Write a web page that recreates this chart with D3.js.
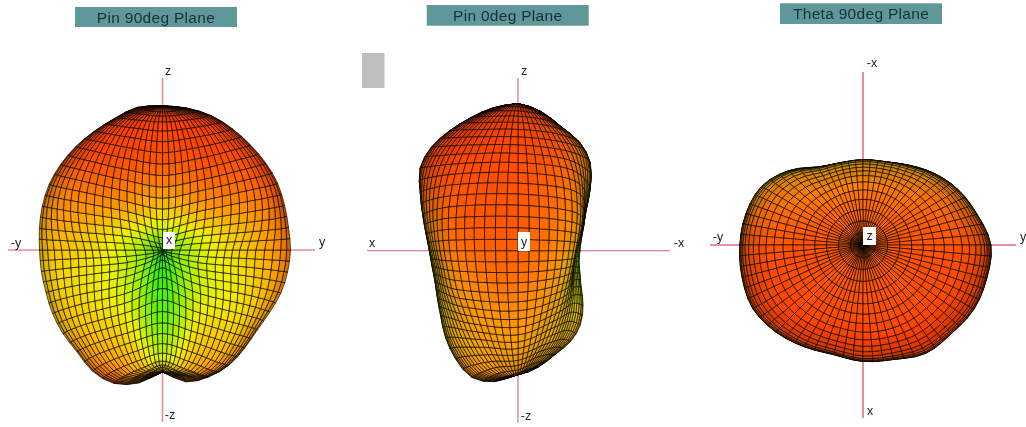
<!DOCTYPE html>
<html><head><meta charset="utf-8">
<script src="https://cdn.jsdelivr.net/npm/d3@7/dist/d3.min.js"></script>
<style>html,body{margin:0;padding:0;background:#fff}svg{display:block;filter:blur(.35px)}text{font-family:"Liberation Sans",Arial,sans-serif}</style>
</head><body><svg id="c" width="1026" height="427"></svg>
<script>
// Radius, rows theta 0..180 by 10 deg, columns phi -90..90 by 30 deg
const radiusPin90 = [
[144,144,144,144,144,144,144],[145,143,141,140,141,143,144],[140,140,138,136,138,141,143],
[137,135,130,125,130,136,140],[135,130,120,112,120,131,137],[133,125,110,98,110,126,135],
[131,120,100,82,100,121,133],[128,113,90,60,90,114,130],[125,105,82,35,82,106,128],
[123,98,75,10,75,98,128],[123,98,72,10,72,98,127],[124,102,78,30,78,102,126],
[127,108,88,55,88,108,124],[130,115,98,78,98,115,124],[133,122,108,95,108,122,128],
[140,130,118,108,118,130,133],[142,135,126,118,126,133,135],[135,130,124,119,124,128,134],
[122,122,122,122,122,122,122]];
const radiusPin0 = [
[147,147,147,147,147,147,147],[145,145,146,146,144,142,140],[141,142,143,143,140,134,130],
[138,139,140,140,136,129,124],[135,136,138,138,132,121,112],[128,131,136,137,128,105,93],
[112,122,133,135,122,90,77],[100,112,130,133,115,80,69],[92,104,126,131,108,72,64],
[88,98,122,128,102,66,62],[87,95,118,125,98,65,62],[88,96,116,122,96,68,66],
[93,99,114,120,96,74,73],[101,104,114,119,98,82,85],[113,113,116,119,102,92,97],
[125,122,120,120,108,102,105],[135,130,124,122,113,110,110],[133,130,127,124,120,118,118],
[124,124,124,124,124,124,124]];
// Rows theta 0..90 by 15 deg, columns azimuth 0..345 by 15 deg, clockwise from -x (screen up)
const radiusTheta90 = [
Array(24).fill(140),
[136,136,137,138,140,141,142,142,142,142,141,140,140,140,140,141,141,141,141,140,139,138,137,136],
[126,127,129,132,135,138,142,142,142,141,140,139,138,137,138,140,141,140,140,139,137,132,127,126],
[110,111,115,122,129,134,140,140,140,138,137,135,134,132,134,137,139,138,137,135,132,124,113,110],
[98,99,104,112,120,127,136,136,136,134,133,129,128,125,128,132,135,133,132,130,126,116,102,98],
[88,89,95,104,113,121,130,131,131,128,128,122,120,117,121,126,130,128,126,124,120,108,93,88],
[85,86,92,101,110,118,128,128,128,125,125,118,116,113,117,123,127,125,123,121,117,105,90,85]];
const gainPin90 = [
[.9,.9,.9,.9,.9,.9,.9],[.92,.92,.92,.9,.92,.92,.92],[.85,.88,.86,.82,.86,.88,.9],
[.72,.75,.7,.55,.7,.78,.85],[.62,.6,.45,.2,.45,.62,.78],[.55,.5,.38,.05,.38,.52,.72],
[.58,.52,.4,.1,.4,.5,.68],[.66,.6,.5,.22,.5,.58,.66],[.82,.72,.58,.42,.58,.7,.75],
[.6,.6,.6,.6,.6,.6,.6]];
const gainPin0 = [
[.9,.9,.9,.9,.9,.9,.9],[.9,.92,.9,.88,.86,.82,.78],[.88,.9,.9,.88,.82,.7,.6],
[.68,.8,.84,.84,.75,.55,.42],[.55,.65,.8,.82,.68,.45,.3],[.5,.58,.72,.78,.6,.4,.28],
[.5,.55,.66,.7,.6,.45,.38],[.55,.6,.64,.66,.6,.55,.55],[.7,.68,.65,.65,.62,.6,.6],
[.7,.7,.7,.7,.7,.7,.7]];
// Rows theta 0..90 by 15 deg, columns azimuth 0..330 by 30 deg
const gainTheta90 = [
Array(12).fill(.82),
[.8,.8,.82,.84,.84,.84,.84,.84,.84,.84,.82,.8],
[.72,.74,.8,.84,.86,.86,.86,.86,.86,.84,.78,.72],
[.66,.68,.76,.84,.88,.9,.9,.9,.88,.84,.74,.66],
[.58,.6,.72,.84,.9,.92,.88,.9,.88,.82,.68,.58],
[.48,.52,.66,.84,.88,.84,.78,.82,.86,.78,.6,.48],
[.42,.45,.6,.84,.82,.7,.62,.68,.78,.72,.52,.4]];
const gainStops = [0,.25,.45,.65,.85,1];
const gainColours = ["#00f020","#80f000","#f0f000","#ffa000","#ff5000","#ff2800"];
const titles = ["Pin 90deg Plane","Pin 0deg Plane","Theta 90deg Plane"];
const axisLabels = [["-y","y","z","-z","x"],["x","-x","z","-z","y"],["-y","y","-x","x","z"]];

const svg = d3.select("#c");
const colour = d3.scaleLinear().domain(gainStops).range(gainColours).clamp(true);
const rad = Math.PI/180;
function cr(a,b,c,d,t){return .5*(2*b+(c-a)*t+(2*a-5*b+4*c-d)*t*t+(3*b-a-3*c+d)*t*t*t);}
function sample1(get,n,u,wrap){
  const i=Math.floor(u),t=u-i;
  const at=k=>wrap?get(((k%n)+n)%n):get(Math.max(0,Math.min(n-1,k)));
  return cr(at(i-1),at(i),at(i+1),at(i+2),t);
}
function sample2(tbl,r,c,wrap){
  const nr=tbl.length,nc=tbl[0].length;
  return sample1(k=>sample1(j=>tbl[k][j],nc,c,wrap),nr,r,false);
}
function surface(p){
  const cells=[],pts=[];
  const nT=p.thetaMax/5, nP=p.full?72:36;
  for(let i=0;i<=nT;i++){pts[i]=[];for(let j=0;j<=nP;j++){
    const th=i*5, ph=p.full?j*5:-90+j*5;
    const r=sample2(p.radius,th/p.rStepT,p.full?ph/15:(ph+90)/30,p.full);
    const g=sample2(p.gain,th/p.gStepT,p.full?ph/30:(ph+90)/30,p.full);
    const st=Math.sin(th*rad),ct=Math.cos(th*rad),sp=Math.sin(ph*rad),cp=Math.cos(ph*rad);
    pts[i][j]=p.full?{x:r*st*sp,y:r*st*cp,d:r*ct,g}:{x:r*st*sp,y:r*ct,d:r*st*cp,g};
  }}
  for(let i=0;i<nT;i++)for(let j=0;j<nP;j++){
    const a=pts[i][j],b=pts[i][j+1],c=pts[i+1][j+1],e=pts[i+1][j];
    const ux=c.x-a.x,uy=c.y-a.y,uz=c.d-a.d,vx=e.x-b.x,vy=e.y-b.y,vz=e.d-b.d;
    const nx=uy*vz-uz*vy,ny=uz*vx-ux*vz,nz=ux*vy-uy*vx,nl=Math.hypot(nx,ny,nz)||1;
    cells.push({q:[a,b,c,e],depth:(a.d+b.d+c.d+e.d)/4,g:(a.g+b.g+c.g+e.g)/4,lit:Math.abs(nz)/nl});
  }
  return cells.sort((u,v)=>u.depth-v.depth);
}
const panels=[
 {cx:162.5,cy:250,radius:radiusPin90,gain:gainPin90,thetaMax:180,rStepT:10,gStepT:20,
  box:[75,7,162,20],title:titles[0],lab:axisLabels[0],ax:[8,315,78,422],axc:"#e58a9a",axw:1.6,
  pos:[[16,247],[322,246],[168,75],[170,419]],lb:[163,232,12,17]},
 {cx:518,cy:250.7,radius:radiusPin0,gain:gainPin0,thetaMax:180,rStepT:10,gStepT:20,
  box:[426.7,5,162,20.7],title:titles[1],lab:axisLabels[1],ax:[367,670,78,423],axc:"#d0607a",axw:1.1,
  pos:[[372,247],[679,247],[524,75],[526,420]],lb:[518,232,12,19]},
 {cx:863,cy:245,radius:radiusTheta90,gain:gainTheta90,thetaMax:90,rStepT:15,gStepT:15,full:true,
  box:[780,3.3,162,20.7],title:titles[2],lab:axisLabels[2],ax:[710,1016,72,418],axc:"#d02040",axw:1,
  pos:[[718,241],[1023,241],[872,67],[870,415]],lb:[863,227,13,18]}
];
panels.forEach(p=>{
  const g=svg.append("g");
  const sx=d3.scaleLinear().domain([-150,150]).range([p.cx-150,p.cx+150]);
  const sy=d3.scaleLinear().domain([150,-150]).range([p.cy-150,p.cy+150]);
  g.append("rect").attr("x",p.box[0]).attr("y",p.box[1]).attr("width",p.box[2]).attr("height",p.box[3]).attr("fill","#5f9898");
  g.append("text").attr("x",p.box[0]+p.box[2]/2).attr("y",p.box[1]+15.5).attr("text-anchor","middle")
   .attr("font-size",15.5).attr("fill","#17303a").attr("letter-spacing",.3).text(p.title);
  g.append("line").attr("x1",p.ax[0]).attr("x2",p.ax[1]).attr("y1",p.cy).attr("y2",p.cy).attr("stroke",p.axc).attr("stroke-width",p.axw);
  g.append("line").attr("x1",p.cx).attr("x2",p.cx).attr("y1",p.ax[2]).attr("y2",p.ax[3]).attr("stroke",p.axc).attr("stroke-width",p.axw);
  const line=d3.line().x(d=>sx(d.x)).y(d=>sy(d.y));
  g.selectAll("path.cell").data(surface(p)).join("path").attr("class","cell")
   .attr("d",d=>line(d.q)+"Z")
   .attr("fill",d=>{const c=d3.rgb(colour(d.g)),k=.68+.32*Math.min(1,d.lit*1.5);return d3.rgb(c.r*k,c.g*k,c.b*k);})
   .attr("stroke","#000").attr("stroke-width",.75).attr("stroke-opacity",.85).attr("stroke-linejoin","round");
  p.pos.forEach((q,i)=>g.append("text").attr("x",q[0]).attr("y",q[1]).attr("text-anchor","middle")
    .attr("font-size",12.5).attr("fill","#222").text(p.lab[i]));
  g.append("rect").attr("x",p.lb[0]).attr("y",p.lb[1]).attr("width",p.lb[2]).attr("height",p.lb[3]).attr("fill","#fff");
  g.append("text").attr("x",p.lb[0]+p.lb[2]/2).attr("y",p.lb[1]+p.lb[3]-5).attr("text-anchor","middle")
    .attr("font-size",12.5).attr("fill","#222").text(p.lab[4]);
});
svg.append("rect").attr("x",362).attr("y",53).attr("width",22.5).attr("height",35).attr("fill","#bfbfbf");
</script></body></html>
